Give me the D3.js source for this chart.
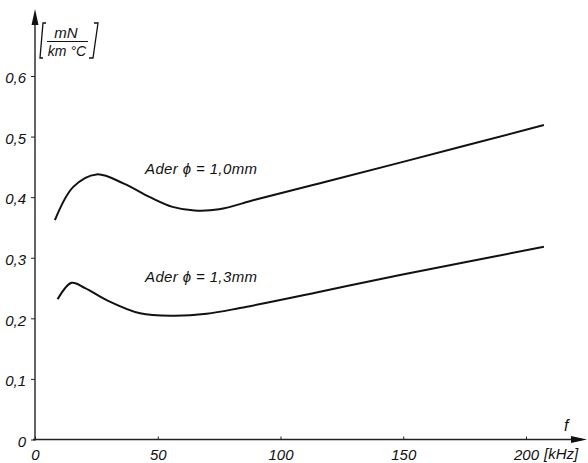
<!DOCTYPE html>
<html>
<head>
  <meta charset="UTF-8">
  <style>
    body { margin: 0; background: #fff; }
    svg { display: block; }
    text { font-family: "Liberation Sans", Arial, sans-serif; font-style: italic; fill: #111; }
    .curve { fill: none; stroke: #111; stroke-width: 2px; stroke-linejoin: round; }
    .axisline { stroke: #222; stroke-width: 1.4px; }
  </style>
</head>
<body>
  <svg width="588" height="463"></svg>
  <script src="https://d3js.org/d3.v7.min.js"></script>
  <script>
    // Werte (f in kHz, Wert in mN/(km °C))
    const fUpper = [8.1, 15.6, 25.1, 36.0, 46.8, 56.0, 65.0, 75.0, 90.0, 116.1, 148.7, 207.3];
    const vUpper = [0.362, 0.417, 0.4376, 0.4228, 0.400, 0.384, 0.378, 0.380, 0.396, 0.423, 0.457, 0.519];
    const fLower = [9.2, 14.9, 20.4, 29.2, 42.8, 56.3, 69.9, 83.5, 116.1, 148.7, 207.3];
    const vLower = [0.2314, 0.2587, 0.250, 0.230, 0.2083, 0.2043, 0.2075, 0.217, 0.2439, 0.2715, 0.318];
    const xTicks = [0, 50, 100, 150, 200];
    const yTicks = [0, 0.1, 0.2, 0.3, 0.4, 0.5, 0.6];
    const labels = ['Ader \u03D5 = 1,0mm', 'Ader \u03D5 = 1,3mm'];

    const svg = d3.select('svg');
    const x = d3.scaleLinear().domain([0, 200]).range([35, 526]);
    const y = d3.scaleLinear().domain([0, 0.6]).range([439.5, 76]);

    const fmt = v => v === 0 ? '0' : d3.format('.1f')(v).replace('.', ',');

    // Achsen
    const yAxis = svg.append('g')
      .attr('transform', `translate(${x(0)},0)`)
      .call(d3.axisLeft(y).tickValues(yTicks).tickFormat(fmt).tickSize(4).tickPadding(5));
    yAxis.select('.domain').remove();
    yAxis.selectAll('.tick line').attr('stroke', '#222');
    yAxis.selectAll('.tick text').attr('dy', '0.45em').attr('font-size', 15).attr('font-family', null);

    const xAxis = svg.append('g')
      .attr('transform', `translate(0,${y(0)})`)
      .call(d3.axisBottom(x).tickValues(xTicks).tickFormat(d => d).tickSize(-3).tickPadding(8));
    xAxis.select('.domain').remove();
    xAxis.selectAll('.tick line').attr('stroke', '#222');
    xAxis.selectAll('.tick text').attr('font-size', 15).attr('dy', '0.85em').attr('font-family', null);

    svg.append('line').attr('class', 'axisline')
      .attr('x1', x(0)).attr('y1', y(0) + 1).attr('x2', x(0)).attr('y2', 14);
    svg.append('line').attr('class', 'axisline')
      .attr('x1', x(0) - 2).attr('y1', y(0)).attr('x2', 582).attr('y2', y(0));

    // Pfeilspitzen
    svg.append('path').attr('fill', '#111')
      .attr('d', `M${x(0)},9 L${x(0) - 3.5},25 L${x(0) + 3.5},25 Z`);
    svg.append('path').attr('fill', '#111')
      .attr('d', `M587,${y(0)} L571,${y(0) - 3.5} L571,${y(0) + 3.5} Z`);

    // Einheiten
    svg.append('text').attr('x', 564).attr('y', 431).attr('font-size', 16).text('f');
    svg.append('text').attr('x', 544).attr('y', 459).attr('font-size', 15).text('[kHz]');

    const unit = svg.append('g');
    unit.append('path').attr('fill', 'none').attr('stroke', '#111').attr('stroke-width', 1.3)
      .attr('d', 'M46,23 L43,23 L40,58 L43,58');
    unit.append('path').attr('fill', 'none').attr('stroke', '#111').attr('stroke-width', 1.3)
      .attr('d', 'M94,23 L98,23 L93,58 L89,58');
    unit.append('text').attr('x', 66).attr('y', 38).attr('text-anchor', 'middle').attr('font-size', 15).text('mN');
    unit.append('line').attr('x1', 47).attr('x2', 88).attr('y1', 41.5).attr('y2', 41.5)
      .attr('stroke', '#111').attr('stroke-width', 1.2);
    unit.append('text').attr('x', 67).attr('y', 56).attr('text-anchor', 'middle').attr('font-size', 14).text('km °C');

    // Kurven
    const line = d3.line().x(d => x(d[0])).y(d => y(d[1])).curve(d3.curveCatmullRom.alpha(0.5));
    const series = [d3.zip(fUpper, vUpper), d3.zip(fLower, vLower)];
    svg.selectAll('.curve').data(series).enter().append('path')
      .attr('class', 'curve').attr('d', line);

    svg.selectAll('.lbl').data(labels).enter().append('text')
      .attr('class', 'lbl')
      .attr('x', 145)
      .attr('y', (d, i) => i === 0 ? 174 : 282)
      .attr('font-size', 15)
      .attr('textLength', 112)
      .text(d => d);
  </script>
</body>
</html>
